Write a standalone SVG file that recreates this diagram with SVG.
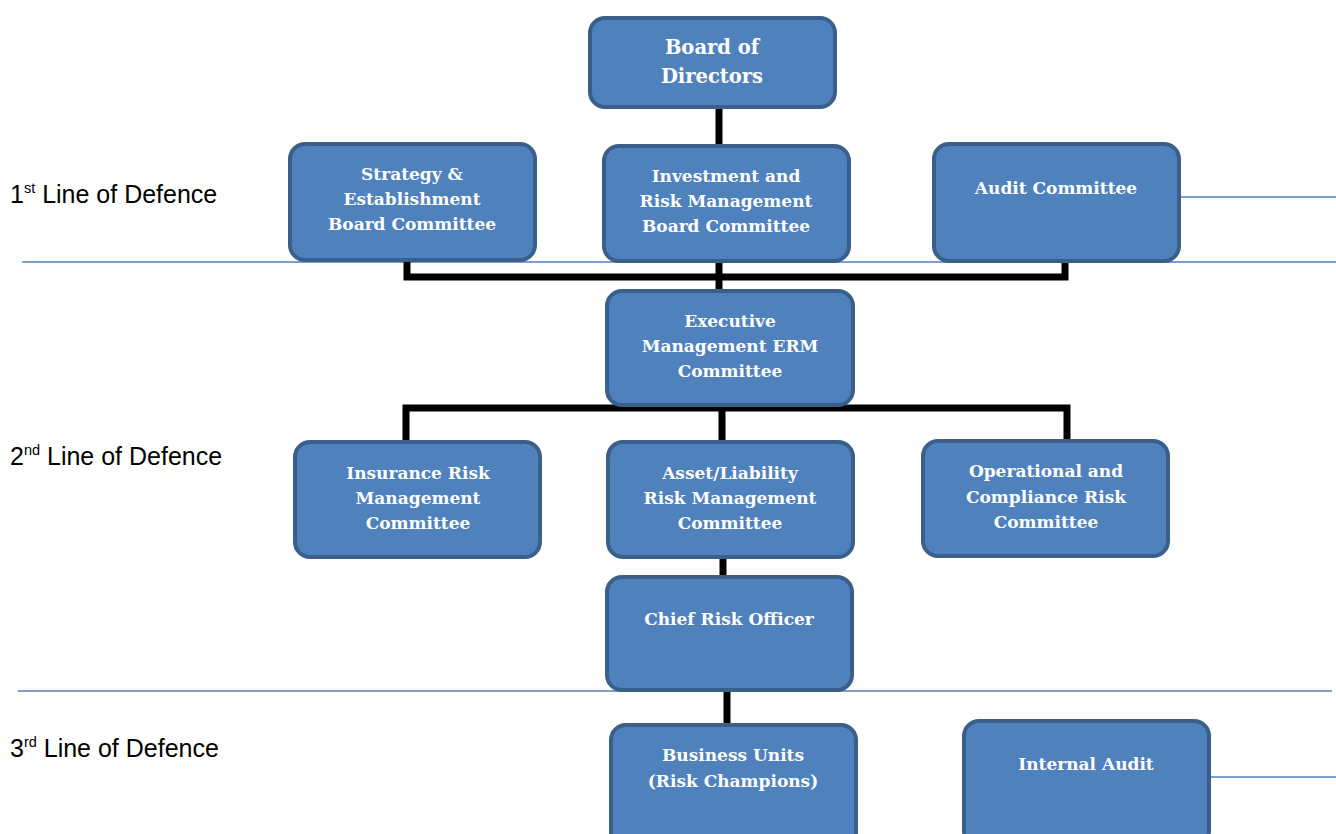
<svg xmlns="http://www.w3.org/2000/svg" width="1336" height="834" viewBox="0 0 1336 834">
<style>
.box{fill:#4F81BD;stroke:#3A5F8B;stroke-width:4}
.t{font-family:"DejaVu Serif",serif;font-weight:bold;font-size:17px;fill:#fff;text-anchor:middle}
.tb{font-size:19.5px}
.lbl{font-family:"Liberation Sans",Arial,sans-serif;font-size:25px;fill:#000}
.sup{font-size:14.5px}
.sep{stroke:#4F81BD;stroke-width:1.6;fill:none}
.conn{stroke:#000;stroke-width:7;fill:none;stroke-linecap:butt}
</style>
<rect width="1336" height="834" fill="#fff"/>
<g id="separators">
<line class="sep" x1="22" y1="262" x2="1336" y2="262"/>
<line class="sep" x1="18" y1="691" x2="1332" y2="691"/>
<line class="sep" x1="1179" y1="197" x2="1336" y2="197"/>
<line class="sep" x1="1209" y1="777" x2="1336" y2="777"/>
</g>
<g id="labels">
<text class="lbl" x="10" y="203">1<tspan class="sup" dy="-10">st</tspan><tspan dy="10"> Line of Defence</tspan></text>
<text class="lbl" x="10" y="465">2<tspan class="sup" dy="-10">nd</tspan><tspan dy="10"> Line of Defence</tspan></text>
<text class="lbl" x="10" y="757">3<tspan class="sup" dy="-10">rd</tspan><tspan dy="10"> Line of Defence</tspan></text>
</g>
<g id="connectors">
<line class="conn" x1="719" y1="105" x2="719" y2="147"/>
<polyline class="conn" points="407,252 407,277 1065,277 1065,252"/>
<line class="conn" x1="719" y1="252" x2="719" y2="292"/>
<polyline class="conn" points="406,440 406,408 1067,408 1067,445"/>
<line class="conn" x1="722" y1="398" x2="722" y2="444"/>
<line class="conn" x1="723" y1="548" x2="723" y2="578"/>
<line class="conn" x1="727" y1="686" x2="727" y2="724"/>
</g>
<g id="board">
<rect class="box" x="590" y="18" width="245" height="89" rx="15"/>
<text class="t tb" x="712" y="54">Board of</text>
<text class="t tb" x="712" y="83">Directors</text>
</g>
<g id="strategy">
<rect class="box" x="290" y="144" width="245" height="116" rx="15"/>
<text class="t" x="412" y="180">Strategy &amp;</text>
<text class="t" x="412" y="205">Establishment</text>
<text class="t" x="412" y="230">Board Committee</text>
</g>
<g id="investment">
<rect class="box" x="604" y="146" width="245" height="115" rx="15"/>
<text class="t" x="726" y="182">Investment and</text>
<text class="t" x="726" y="207">Risk Management</text>
<text class="t" x="726" y="232">Board Committee</text>
</g>
<g id="audit">
<rect class="box" x="934" y="144" width="245" height="117" rx="15"/>
<text class="t" x="1056" y="194">Audit Committee</text>
</g>
<g id="executive">
<rect class="box" x="607" y="291" width="246" height="114" rx="15"/>
<text class="t" x="730" y="327">Executive</text>
<text class="t" x="730" y="352">Management ERM</text>
<text class="t" x="730" y="377">Committee</text>
</g>
<g id="insurance">
<rect class="box" x="295" y="442" width="245" height="115" rx="15"/>
<text class="t" x="418" y="479">Insurance Risk</text>
<text class="t" x="418" y="504">Management</text>
<text class="t" x="418" y="529">Committee</text>
</g>
<g id="asset">
<rect class="box" x="608" y="442" width="245" height="115" rx="15"/>
<text class="t" x="730" y="479">Asset/Liability</text>
<text class="t" x="730" y="504">Risk Management</text>
<text class="t" x="730" y="529">Committee</text>
</g>
<g id="operational">
<rect class="box" x="923" y="441" width="245" height="115" rx="15"/>
<text class="t" x="1046" y="477">Operational and</text>
<text class="t" x="1046" y="503">Compliance Risk</text>
<text class="t" x="1046" y="528">Committee</text>
</g>
<g id="cro">
<rect class="box" x="607" y="577" width="245" height="113" rx="15"/>
<text class="t" x="729" y="625">Chief Risk Officer</text>
</g>
<g id="business">
<rect class="box" x="611" y="725" width="245" height="125" rx="15"/>
<text class="t" x="733" y="761">Business Units</text>
<text class="t" x="733" y="787">(Risk Champions)</text>
</g>
<g id="internal">
<rect class="box" x="964" y="721" width="245" height="125" rx="15"/>
<text class="t" x="1086" y="770">Internal Audit</text>
</g>
</svg>
